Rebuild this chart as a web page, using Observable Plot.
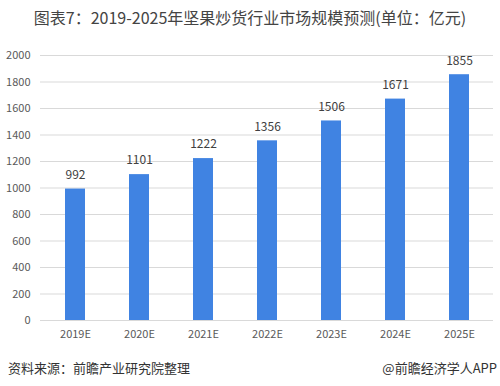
<!DOCTYPE html>
<html>
<head>
<meta charset="utf-8">
<script src="https://cdn.jsdelivr.net/npm/d3@7"></script>
<script src="https://cdn.jsdelivr.net/npm/@observablehq/plot@0.6"></script>
<style>
  html, body { margin: 0; padding: 0; background: #fff; width: 500px; height: 386px; overflow: hidden; font-family: "Noto Sans CJK SC", "Open Sans", sans-serif; }
  #title { height: 36px; line-height: 34px; font-size: 16px; color: #444; text-align: center; white-space: nowrap; }
  #chart { height: 310px; }
  #footer { position: relative; height: 40px; font-size: 13px; color: #333; }
  #footer .l { position: absolute; left: 8px; top: 12px; }
  #footer .r { position: absolute; right: 3px; top: 12px; }
</style>
</head>
<body>
<div id="title">图表7：2019-2025年坚果炒货行业市场规模预测(单位：亿元)</div>
<div id="chart"></div>
<div id="footer"><span class="l">资料来源：前瞻产业研究院整理</span><span class="r">@前瞻经济学人APP</span></div>
<script>
const years = ["2019E", "2020E", "2021E", "2022E", "2023E", "2024E", "2025E"];
const values = [992, 1101, 1222, 1356, 1506, 1671, 1855];
const yTicks = [0, 200, 400, 600, 800, 1000, 1200, 1400, 1600, 1800, 2000];

const data = years.map((y, i) => ({year: y, value: values[i]}));

const chart = Plot.plot({
  width: 500,
  height: 310,
  marginLeft: 40,
  marginRight: 7,
  marginTop: 19,
  marginBottom: 26,
  style: {fontFamily: "'Noto Sans CJK SC', 'Open Sans', sans-serif", fontSize: "11px", color: "#595959", background: "#fff"},
  x: {domain: years, paddingInner: 0.69, paddingOuter: 0.345, label: null, tickSize: 0, tickPadding: 10},
  y: {domain: [0, 2000], ticks: yTicks, label: null, tickSize: 0, tickPadding: 10, tickFormat: d => String(d)},
  marks: [
    Plot.gridY(yTicks, {stroke: "#d9d9d9", strokeOpacity: 1}),
    Plot.barY(data, {x: "year", y: "value", fill: "#4083e2"}),
    Plot.text(data, {x: "year", y: "value", text: d => String(d.value), dy: -14, fontSize: 12, fill: "#404040"})
  ]
});
document.getElementById("chart").appendChild(chart);
</script>
</body>
</html>
